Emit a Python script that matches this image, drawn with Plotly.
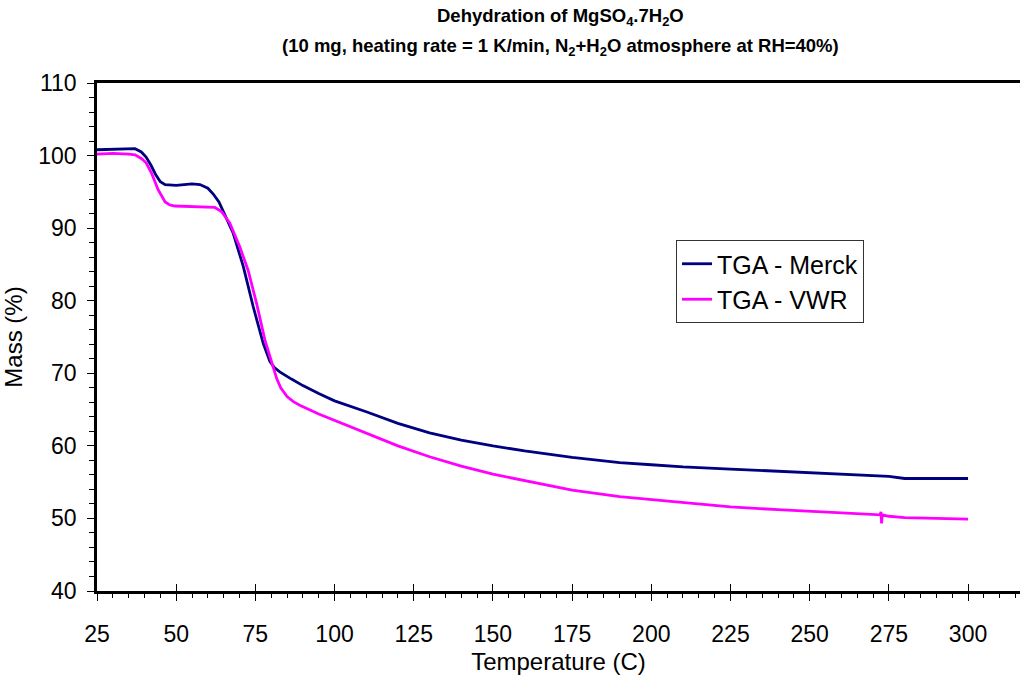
import plotly.graph_objects as go

# Temperature (C) and mass (%) readings for the two samples
temp_merck = [25, 30, 35, 37, 39, 40.5, 42, 43.5, 45, 46.5, 50, 55, 57.5, 60, 61.7, 63.5,
              65.4, 68, 71.2, 74.3, 77.5, 79.6, 81, 82.7, 86.4, 90, 95, 100, 110, 120,
              130, 140, 150, 160, 175, 190, 200, 210, 225, 240, 250, 260, 270, 275, 280,
              290, 300]
mass_merck = [100.8, 100.9, 101.0, 100.95, 100.5, 99.8, 98.7, 97.4, 96.4, 96.0, 95.9, 96.1,
              96.0, 95.5, 94.7, 93.6, 91.8, 89.3, 84.7, 79.2, 74.1, 71.6, 70.8, 70.2, 69.2,
              68.3, 67.2, 66.2, 64.7, 63.1, 61.8, 60.8, 60.0, 59.3, 58.4, 57.7, 57.4, 57.1,
              56.8, 56.5, 56.4, 56.2, 56.0, 55.8, 55.5, 55.5, 55.5]

temp_vwr = [25, 30, 35, 37, 39, 40.5, 42.2, 44.3, 46.5, 48, 49.6, 55, 60, 62.2, 64.3, 66.9,
            70.1, 72.7, 75.4, 78, 80.1, 81.7, 83, 85, 87, 89, 95, 100, 110, 120,
            130, 140, 150, 160, 175, 190, 200, 210, 225, 240, 250, 260, 270, 272.3,
            272.5, 272.7, 272.9, 275, 280, 285, 290, 300]
mass_vwr = [100.2, 100.3, 100.2, 100.1, 99.6, 99.0, 97.6, 95.3, 93.6, 93.2, 93.05, 92.95,
            92.9, 92.85, 92.3, 90.7, 87.4, 84.2, 79.6, 74.6, 71.6, 69.3, 68.0, 66.8, 66.1,
            65.6, 64.4, 63.5, 61.7, 60.0, 58.5, 57.2, 56.1, 55.2, 53.9, 53.0, 52.6, 52.1,
            51.6, 51.2, 51.0, 50.8, 50.6, 50.5,
            50.9, 49.3, 50.5, 50.3, 50.1, 50.0, 50.0, 49.9]

series_names = ["TGA - Merck", "TGA - VWR"]
series_colors = ["#000080", "#FF00FF"]

x_ticks = list(range(25, 301, 25))
y_ticks = list(range(40, 111, 10))

FONT = "Liberation Sans, Arial, sans-serif"

fig = go.Figure()
fig.add_trace(go.Scatter(x=temp_merck, y=mass_merck, mode="lines", name=series_names[0],
                         line=dict(color=series_colors[0], width=2.8)))
fig.add_trace(go.Scatter(x=temp_vwr, y=mass_vwr, mode="lines", name=series_names[1],
                         line=dict(color=series_colors[1], width=2.8)))

# invisible trace on a twin axis so the major x ticks also reach inside the plot
fig.add_trace(go.Scatter(x=[x_ticks[0]], y=[y_ticks[0]], xaxis="x2", mode="markers",
                         marker=dict(opacity=0), showlegend=False, hoverinfo="skip"))

x_range = [25, 316.4]

# plot area in pixels
ML, MT, MB = 97, 83, 84
plot_w = 1020 - ML
plot_h = 675 - MT - MB


def px_to_paper(px, py):
    return (px - ML) / plot_w, 1 + (MT - py) / plot_h


title_lines = [
    "<b>Dehydration of MgSO<sub>4</sub>.7H<sub>2</sub>O</b>",
    "<b>(10 mg, heating rate = 1 K/min, N<sub>2</sub>+H<sub>2</sub>O atmosphere at RH=40%)</b>",
]
annotations = []
for text, py in zip(title_lines, [17, 47]):
    ax, ay = px_to_paper(560, py)
    annotations.append(dict(text=text, x=ax, y=ay, xref="paper", yref="paper",
                            xanchor="center", yanchor="middle", showarrow=False,
                            font=dict(size=18.5, family=FONT, color="black")))

leg_x, leg_y = px_to_paper(676, 240)

fig.update_layout(
    width=1020, height=675,
    margin=dict(l=ML, r=0, t=MT, b=MB),
    paper_bgcolor="white", plot_bgcolor="white",
    font=dict(family=FONT, color="black"),
    showlegend=True,
    legend=dict(
        x=leg_x, y=leg_y, xanchor="left", yanchor="top",
        bgcolor="white", bordercolor="#333333", borderwidth=1,
        font=dict(size=25, family=FONT, color="black"),
        tracegroupgap=0, itemwidth=30,
    ),
    xaxis=dict(
        range=x_range, tickmode="array", tickvals=x_ticks,
        showgrid=False, zeroline=False,
        showline=True, linecolor="black", linewidth=2.5, mirror=True,
        ticks="outside", ticklen=7, tickwidth=1, tickcolor="black",
        ticklabelstandoff=14,
        tickfont=dict(size=23, family=FONT),
        minor=dict(dtick=5, ticks="outside", ticklen=4, tickwidth=1, tickcolor="black",
                   showgrid=False),
        title=dict(text="Temperature (C)", font=dict(size=24, family=FONT), standoff=8),
    ),
    xaxis2=dict(
        range=x_range, overlaying="x", anchor="y", side="bottom",
        tickmode="array", tickvals=x_ticks, showticklabels=False,
        ticks="inside", ticklen=7, tickwidth=1, tickcolor="black",
        showgrid=False, zeroline=False, showline=False,
    ),
    yaxis=dict(
        range=[40, 110], tickmode="array", tickvals=y_ticks,
        showgrid=False, zeroline=False,
        showline=True, linecolor="black", linewidth=2.5,
        ticks="outside", ticklen=7, tickwidth=1, tickcolor="black",
        ticklabelstandoff=6,
        tickfont=dict(size=23, family=FONT),
        minor=dict(dtick=2, ticks="outside", ticklen=5, tickwidth=1, tickcolor="black",
                   showgrid=False),
        title=dict(text="Mass (%)", font=dict(size=24, family=FONT), standoff=12),
    ),
    annotations=annotations,
)

fig.write_html("out.html")
